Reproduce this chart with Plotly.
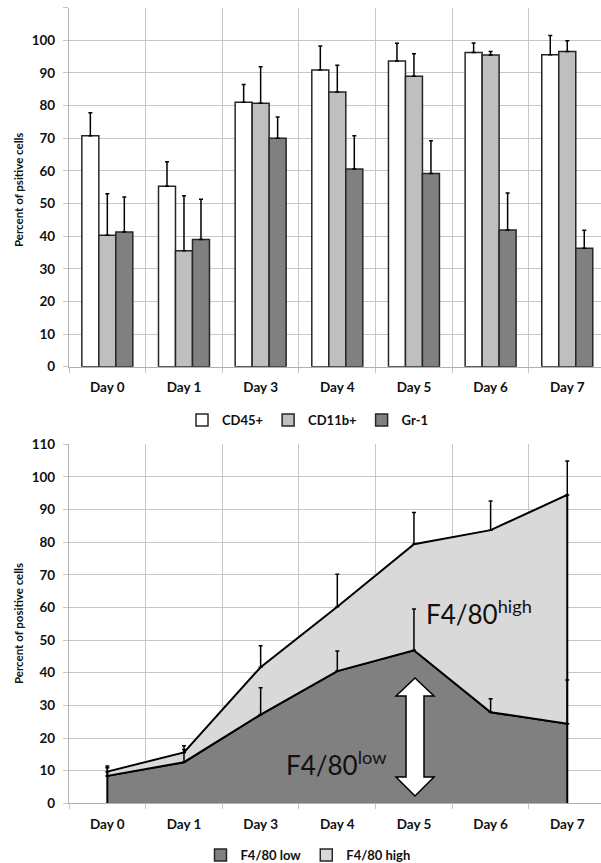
import plotly.graph_objects as go

# ---------------- data ----------------
days = ["Day 0", "Day 1", "Day 3", "Day 4", "Day 5", "Day 6", "Day 7"]

cd45 = [70.8, 55.3, 81.0, 90.9, 93.7, 96.3, 95.6]
cd45_err = [7.0, 7.5, 5.5, 7.4, 5.4, 2.9, 5.9]
cd11b = [40.3, 35.5, 80.7, 84.2, 89.0, 95.5, 96.6]
cd11b_err = [12.7, 16.9, 11.2, 8.2, 6.9, 1.1, 3.3]
gr1 = [41.3, 39.0, 70.0, 60.6, 59.2, 41.9, 36.3]
gr1_err = [10.7, 12.3, 6.5, 10.2, 10.0, 11.3, 5.5]

f480_low = [8.4, 12.6, 27.2, 40.5, 46.9, 27.9, 24.4]
f480_low_err = [2.5, 3.9, 8.2, 6.2, 12.6, 4.1, 13.4]
f480_high = [1.3, 3.0, 14.5, 19.7, 32.5, 55.8, 70.1]
f480_high_err = [1.7, 2.0, 6.6, 10.0, 9.7, 8.9, 10.4]

y_ticks_top = list(range(0, 111, 10))
y_ticks_bottom = list(range(0, 111, 10))

# ---------------- style ----------------
W, H = 601, 863
ML = 69
PW = W - ML
FONT = "Lato, 'Open Sans', sans-serif"
GRID = "#c6c6c6"
EDGE = "#262626"


def px_x(p):
    return (p - ML) / PW


def px_y(p):
    return 1 - p / H


fig = go.Figure()

err_style = dict(type="data", symmetric=False, color="black", thickness=1.5, width=2)

for name, vals, errs, col in [
    ("CD45+", cd45, cd45_err, "#ffffff"),
    ("CD11b+", cd11b, cd11b_err, "#bfbfbf"),
    ("Gr-1", gr1, gr1_err, "#808080"),
]:
    fig.add_trace(go.Bar(
        x=days, y=vals, name=name, xaxis="x", yaxis="y", legend="legend",
        marker=dict(color=col, line=dict(color=EDGE, width=1.5)),
        error_y=dict(array=errs, arrayminus=[0] * len(errs), **err_style),
        hoverinfo="skip",
    ))

total = [a + b for a, b in zip(f480_low, f480_high)]

# F4/80 low area
fig.add_trace(go.Scatter(
    x=[days[0]] + days + [days[-1]], y=[0] + f480_low + [0],
    mode="lines", fill="toself", fillcolor="#808080",
    line=dict(color="black", width=2), name="F4/80 low", showlegend=False,
    xaxis="x2", yaxis="y2", hoverinfo="skip",
))
# F4/80 high area (stacked on low)
fig.add_trace(go.Scatter(
    x=days + days[::-1] + [days[0]], y=total + f480_low[::-1] + [total[0]],
    mode="lines", fill="toself", fillcolor="#d9d9d9",
    line=dict(color="black", width=2), name="F4/80 high", showlegend=False,
    xaxis="x2", yaxis="y2", hoverinfo="skip",
))
# error bars
for yv, ev in [(f480_low, f480_low_err), (total, f480_high_err)]:
    fig.add_trace(go.Scatter(
        x=days, y=yv, mode="markers", marker=dict(color="rgba(0,0,0,0)", size=1),
        error_y=dict(array=ev, arrayminus=[0] * len(ev), **err_style),
        xaxis="x2", yaxis="y2", showlegend=False, hoverinfo="skip",
    ))
# legend entries for the area series (square swatches)
for name, col in [("F4/80 low", "#808080"), ("F4/80 high", "#d9d9d9")]:
    fig.add_trace(go.Bar(
        x=[None], y=[None], name=name, xaxis="x2", yaxis="y2", legend="legend2",
        marker=dict(color=col, line=dict(color=EDGE, width=1.5)),
        hoverinfo="skip",
    ))

# ---------------- axes ----------------
tickfont = dict(family=FONT, size=13.5, color="#111111", weight="bold")

xcommon = dict(
    type="category", range=[-0.5, 6.44], tickson="boundaries",
    ticks="outside", ticklen=5, tickcolor=GRID, showgrid=True, gridcolor=GRID,
    gridwidth=1.3, showline=True, linecolor="#b0b0b0", linewidth=1.3,
    tickfont=tickfont, ticklabelstandoff=8, zeroline=False, fixedrange=True,
    automargin=False,
)
ycommon = dict(
    range=[0, 110], ticks="outside", ticklen=5, tickcolor=GRID,
    showgrid=True, gridcolor=GRID, gridwidth=1.3, showline=True,
    linecolor="#b0b0b0", linewidth=1.3, zeroline=False, tickfont=tickfont,
    ticklabelstandoff=5, automargin=False, fixedrange=True,
)

top_dom = [px_y(366.7), px_y(7.7)]
bot_dom = [px_y(803.3), px_y(444.3)]

legend_font = dict(family=FONT, size=13, weight="bold", color="#111111")

fig.update_layout(
    width=W, height=H,
    margin=dict(l=ML, r=0, t=0, b=0, autoexpand=False),
    paper_bgcolor="white", plot_bgcolor="white",
    font=dict(family=FONT, color="#111111"),
    barmode="group", bargap=0.335, bargroupgap=0,
    showlegend=True,
    xaxis=dict(domain=[0, 1], anchor="y", **xcommon),
    yaxis=dict(domain=top_dom, anchor="x", tickvals=y_ticks_top,
               ticktext=[str(v) if v <= 100 else "" for v in y_ticks_top], **ycommon),
    xaxis2=dict(domain=[0, 1], anchor="y2", **xcommon),
    yaxis2=dict(domain=bot_dom, anchor="x2", tickvals=y_ticks_bottom,
                ticktext=[str(v) for v in y_ticks_bottom], **ycommon),
    legend=dict(orientation="h", x=px_x(308), y=px_y(420), xanchor="center",
                yanchor="middle", font=legend_font,
                itemwidth=30, bgcolor="rgba(0,0,0,0)", tracegroupgap=0),
    legend2=dict(orientation="h", x=px_x(308), y=px_y(855), xanchor="center",
                 yanchor="middle", font=legend_font,
                 itemwidth=30, bgcolor="rgba(0,0,0,0)"),
)

ann_font = dict(family=FONT, size=11.5, color="#111111", weight="bold")
fig.add_annotation(text="Percent of psitive cells", xref="paper", yref="paper",
                   x=px_x(18), y=px_y(190), textangle=-90, showarrow=False,
                   xanchor="center", yanchor="middle", font=ann_font)
fig.add_annotation(text="Percent of positive cells", xref="paper", yref="paper",
                   x=px_x(18), y=px_y(624), textangle=-90, showarrow=False,
                   xanchor="center", yanchor="middle", font=ann_font)

big = dict(family=FONT, size=26, color="#111111")
fig.add_annotation(text="F4/80<sup>high</sup>", xref="paper", yref="paper",
                   x=px_x(479), y=px_y(612), showarrow=False,
                   xanchor="center", yanchor="middle", font=big)
fig.add_annotation(text="F4/80<sup>low</sup>", xref="paper", yref="paper",
                   x=px_x(336), y=px_y(763), showarrow=False,
                   xanchor="center", yanchor="middle", font=big)

# white double-headed arrow
pts = [(415, 678), (434, 696), (424, 696), (424, 777), (434, 777), (415, 796),
       (396, 777), (406, 777), (406, 696), (396, 696)]
path = "M " + " L ".join(f"{px_x(a):.5f},{px_y(b):.5f}" for a, b in pts) + " Z"
fig.add_shape(type="path", path=path, xref="paper", yref="paper",
              fillcolor="white", line=dict(color="black", width=1.5))

fig.write_html("out.html", config={"displayModeBar": False},
               post_script="document.body.style.margin='0px';")
